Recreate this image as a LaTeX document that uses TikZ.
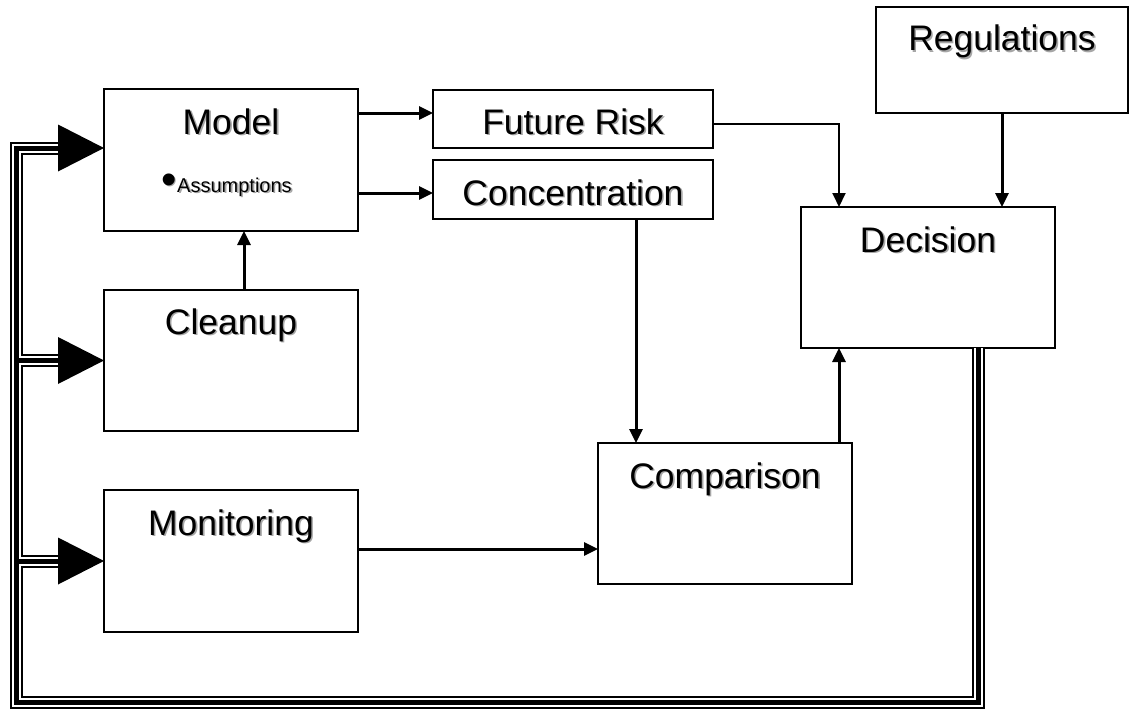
\documentclass[tikz,border=0pt]{standalone}
\usepackage{fontspec}
\setmainfont{Liberation Sans}
\usetikzlibrary{arrows.meta,calc}
\newcommand\shd[1]{\makebox[0pt][l]{\hspace{1.6pt}\raisebox{-1.6pt}{\textcolor{black!35}{#1}}}#1}
\begin{document}
\begin{tikzpicture}[x=1pt,y=-1pt,
  box/.style={draw,line width=2pt,anchor=north west,inner sep=0pt,outer sep=0pt},
  lbl/.style={anchor=base,inner sep=0pt,font=\fontsize{35.5pt}{40pt}\selectfont},
  conn/.style={line width=3pt,-{Triangle[length=14pt,width=13pt]}},
  thinconn/.style={line width=2pt,-{Triangle[length=14pt,width=13pt]}},
  triple/.style={draw=black,line width=13pt,line join=miter,
    postaction={draw=white,line width=9pt},
    postaction={draw=black,line width=5pt}},
  bighead/.style={fill=black}]
\useasboundingbox (0,0) rectangle (1130,709);

% boxes
\node[box,minimum width=254pt,minimum height=142pt] (model) at (104,89) {};
\node[box,minimum width=254pt,minimum height=141pt] (cleanup) at (104,290) {};
\node[box,minimum width=254pt,minimum height=142pt] (monitor) at (104,490) {};
\node[box,minimum width=280pt,minimum height=58pt] (future) at (433,90) {};
\node[box,minimum width=280pt,minimum height=59pt] (conc) at (433,160) {};
\node[box,minimum width=254pt,minimum height=141pt] (decision) at (801,207) {};
\node[box,minimum width=254pt,minimum height=141pt] (comp) at (598,443) {};
\node[box,minimum width=252pt,minimum height=106pt] (reg) at (876,7) {};

% labels
\node[lbl] (modelT) at ($(model.north)+(0,45)$) {\shd{Model}};
\node[anchor=base west,inner sep=0pt] (assum) at (161,192)
  {\makebox[16pt][l]{\fontsize{44pt}{44pt}\selectfont\raisebox{-2pt}{\shd{•}}}{\fontsize{20pt}{24pt}\selectfont\shd{Assumptions}}};
\node[lbl] (cleanupT) at ($(cleanup.north)+(0,44)$) {\shd{Cleanup}};
\node[lbl] (monitorT) at ($(monitor.north)+(0,45)$) {\shd{Monitoring}};
\node[lbl] (futureT) at ($(future.north)+(0,44)$) {\shd{Future Risk}};
\node[lbl] (concT) at ($(conc.north)+(0,45)$) {\shd{Concentration}};
\node[lbl] (decisionT) at ($(decision.north)+(0,45)$) {\shd{Decision}};
\node[lbl] (compT) at ($(comp.north)+(0,45)$) {\shd{Comparison}};
\node[lbl] (regT) at ($(reg.north)+(0,44)$) {\shd{Regulations}};

% connectors
\coordinate (m1) at ($(model.north east)+(0,24)$);
\draw[conn] (m1) -- (m1 -| future.west);
\coordinate (m2) at ($(model.north east)+(0,104)$);
\draw[conn] (m2) -- (m2 -| conc.west);
\coordinate (f1) at ($(future.north east)+(0,34)$);
\coordinate (d1) at ($(decision.north west)+(38,0)$);
\draw[thinconn] (f1) -| (d1);
\draw[conn] (reg.south) -- (reg.south |- decision.north);
\coordinate (c1) at ($(comp.north west)+(38,0)$);
\draw[conn] (c1 |- conc.south) -- (c1);
\coordinate (mo1) at ($(monitor.north east)+(0,59)$);
\draw[conn] (mo1) -- (mo1 -| comp.west);
\coordinate (d2) at ($(decision.south west)+(38,0)$);
\draw[conn] (d2 |- comp.north) -- (d2);
\coordinate (cl1) at ($(cleanup.north west)+(140,0)$);
\draw[conn] (cl1) -- (cl1 |- model.south);

% feedback loop
\coordinate (fb0) at ($(decision.south west)+(177,0)$);
\coordinate (bot) at (0,702);
\coordinate (L0) at (16,0);
\coordinate (ha) at ($(model.north west)+(0,59)$);
\coordinate (hb) at (cleanup.west);
\coordinate (hc) at (monitor.west);
\path[triple] (fb0) -- (fb0 |- bot) -- (L0 |- bot) -- (L0 |- ha) -- ($(ha)+(-46,0)$)
  (L0 |- hb) -- ($(hb)+(-46,0)$)
  (L0 |- hc) -- ($(hc)+(-46,0)$);
\fill[bighead] (ha) -- ++(-46,-23.5) -- ++(0,47) -- cycle;
\fill[bighead] (hb) -- ++(-46,-23.5) -- ++(0,47) -- cycle;
\fill[bighead] (hc) -- ++(-46,-23.5) -- ++(0,47) -- cycle;
\end{tikzpicture}
\end{document}
